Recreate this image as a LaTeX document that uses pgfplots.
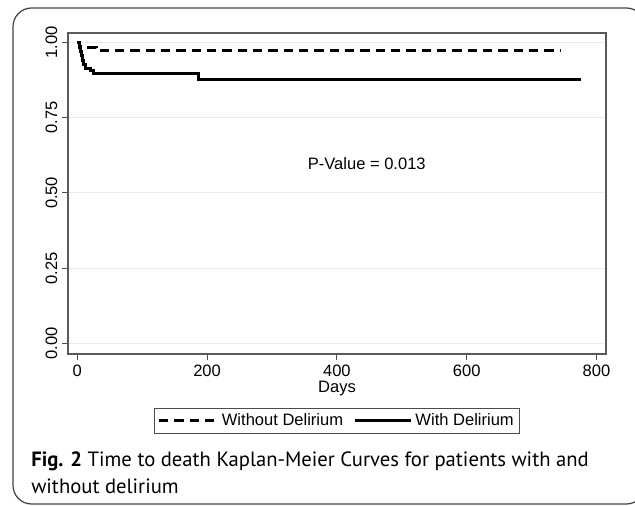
\documentclass[border=0pt]{standalone}
\usepackage{pgfplots}
\pgfplotsset{compat=1.18}
\usepackage{fontspec}
\setmainfont{Liberation Sans}
\newfontfamily\capfont{PT Sans}

\newcommand{\lblfont}{\fontsize{12.4}{14}\selectfont}
\pgfplotsset{kmleg/.style={legend image code/.code={\draw[##1] (0pt,0pt) -- (#1,0pt);}}}

\begin{document}
\begin{tikzpicture}
\useasboundingbox (0,0) rectangle (476.25pt,-379.5pt);
\begin{scope}[x=0.75pt,y=-0.75pt]
  \begin{scope}
    \clip (0,0) rectangle (635,506);
    \draw[black!75, line width=0.9pt, rounded corners=14pt] (13,8) rectangle (645,504);
  \end{scope}
  \node[anchor=base west, inner sep=0, font=\capfont\fontsize{15.5}{17}\selectfont] at (31,466.5)
    {\textbf{Fig. 2} Time to death Kaplan-Meier Curves for patients with and};
  \node[anchor=base west, inner sep=0, font=\capfont\fontsize{15.5}{17}\selectfont] at (31,493)
    {without delirium};
\end{scope}

\begin{axis}[
  at={(51pt,-265.5pt)}, anchor=south west,
  scale only axis, width=403.5pt, height=240.75pt,
  xmin=-14.3, xmax=814.6, ymin=-0.035, ymax=1.031,
  xtick={0,200,400,600,800},
  ytick={0,0.25,0.5,0.75,1},
  yticklabels={0.00,0.25,0.50,0.75,1.00},
  xtick pos=lower, ytick pos=left,
  tick align=outside, major tick length=4.5pt,
  tick style={black!70, line width=0.75pt},
  axis line style={black!65, line width=0.9pt},
  ymajorgrids, grid style={black!8, line width=0.75pt},
  /pgf/number format/assume math mode=true,
  ticklabel style={font=\lblfont},
  yticklabel style={rotate=90, anchor=south},
  xlabel={Days},
  xlabel style={font=\lblfont, at={(axis description cs:0.5,-0.109)}, anchor=center},
  legend columns=2,
  legend cell align=left,
  legend style={at={(0.5,-0.2087)}, anchor=center, draw=black!70, line width=0.75pt,
    font=\lblfont, inner xsep=2pt, inner ysep=2pt,
    /tikz/every even column/.append style={column sep=6pt}},
]
\addplot[black, line width=2.25pt, dash pattern=on 7pt off 4.5pt, const plot, kmleg=44pt]
  coordinates {(0,1) (4,0.983) (29,0.973) (744,0.973)};
\addlegendentry{Without Delirium}
\addplot[black, line width=2.25pt, const plot, kmleg=42pt]
  coordinates {(0,1) (3,0.985) (5,0.97) (6,0.955) (8,0.94) (10,0.925) (12,0.913)
    (21,0.906) (25,0.898) (186,0.877) (776,0.877)};
\addlegendentry{With Delirium}
\node[font=\lblfont] at (axis cs:446,0.598) {P-Value = 0.013};
\end{axis}
\end{tikzpicture}
\end{document}
